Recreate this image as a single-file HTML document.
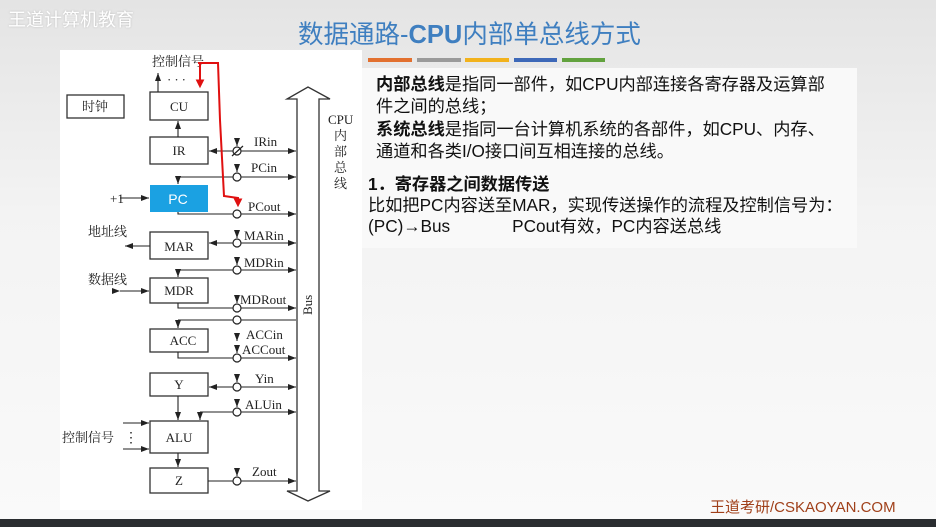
<!DOCTYPE html>
<html><head><meta charset="utf-8"><style>
body{margin:0;width:936px;height:527px;overflow:hidden;background:linear-gradient(#e4e4e4,#f3f3f3 40%,#fafafa);font-family:"Liberation Sans","Noto Sans CJK SC",sans-serif;position:relative}
.t{position:absolute;white-space:nowrap}
</style></head><body>
<div class="t" style="left:8px;top:6px;font-size:18px;color:#fff;text-shadow:0 0 2px #bbb">王道计算机教育</div>
<div class="t" style="left:298px;top:14px;font-size:25.5px;color:#3f7fc0">数据通路-<b>CPU</b>内部单总线方式</div>
<div style="position:absolute;left:362px;top:68px;width:495px;height:180px;background:#f9f9f9"></div>
<svg width="936" height="527" style="position:absolute;left:0;top:0" font-family="Liberation Serif,Noto Serif CJK SC,serif" font-size="13">
<g>
<rect x="355" y="58" width="7" height="4" fill="#3c6fbf"/>
<rect x="368" y="58" width="44" height="4" fill="#e2702f"/>
<rect x="417" y="58" width="44" height="4" fill="#9a9a9a"/>
<rect x="465" y="58" width="44" height="4" fill="#f2b21c"/>
<rect x="514" y="58" width="43" height="4" fill="#3d68b8"/>
<rect x="562" y="58" width="43" height="4" fill="#62a23e"/>
</g>
<rect x="60" y="50" width="302" height="460" fill="#fff"/>
<defs><marker id="a" viewBox="0 0 8 6" refX="8" refY="3" markerWidth="8" markerHeight="6" orient="auto" markerUnits="userSpaceOnUse"><path d="M0,0L8,3L0,6z" fill="#222"/></marker>
<marker id="r" viewBox="0 0 8 8" refX="6" refY="4" markerWidth="9" markerHeight="9" orient="auto" markerUnits="userSpaceOnUse"><path d="M0,0L8,4L0,8z" fill="#e01010"/></marker></defs>
<g stroke="#333" stroke-width="1.3" fill="#fff">
<rect x="67" y="95" width="57" height="23"/>
<rect x="150" y="92" width="58" height="28"/>
<rect x="150" y="137" width="58" height="27"/>
<rect x="150" y="232" width="58" height="27"/>
<rect x="150" y="278" width="58" height="25"/>
<rect x="150" y="329" width="58" height="23"/>
<rect x="150" y="373" width="58" height="23"/>
<rect x="150" y="421" width="58" height="32"/>
<rect x="150" y="468" width="58" height="25"/>
<path d="M297,491V99H287L308,87L330,99H319V491H330L308,501L287,491Z"/>
</g>
<rect x="150" y="185" width="58" height="27" fill="#1ba1e2"/>
<g stroke="#222" stroke-width="1.1" fill="none">
<line x1="158" y1="92" x2="158" y2="73" marker-end="url(#a)"/>
<line x1="178" y1="137" x2="178" y2="121" marker-end="url(#a)"/>
<line x1="296" y1="151" x2="209" y2="151" marker-end="url(#a)"/>
<line x1="233" y1="151" x2="296" y2="151" marker-end="url(#a)"/>
<path d="M296,177H178" /><line x1="178" y1="177" x2="178" y2="184" marker-end="url(#a)"/>
<line x1="241" y1="177" x2="296" y2="177" marker-end="url(#a)"/>
<line x1="120" y1="198" x2="149" y2="198" marker-end="url(#a)"/>
<path d="M178,212V214H233"/><line x1="241" y1="214" x2="296" y2="214" marker-end="url(#a)"/>
<line x1="233" y1="243" x2="209" y2="243" marker-end="url(#a)"/><line x1="241" y1="243" x2="296" y2="243" marker-end="url(#a)"/>
<line x1="150" y1="246" x2="125" y2="246" marker-end="url(#a)"/>
<path d="M296,270H178"/><line x1="178" y1="270" x2="178" y2="277" marker-end="url(#a)"/>
<line x1="241" y1="270" x2="296" y2="270" marker-end="url(#a)"/>
<line x1="120" y1="291" x2="149" y2="291" marker-end="url(#a)" marker-start="url(#a)"/>
<path d="M178,303V308H233"/><line x1="241" y1="308" x2="296" y2="308" marker-end="url(#a)"/>
<path d="M296,320H178"/><line x1="178" y1="320" x2="178" y2="328" marker-end="url(#a)"/>
<path d="M178,352V358H233"/><line x1="241" y1="358" x2="296" y2="358" marker-end="url(#a)"/>
<line x1="233" y1="387" x2="209" y2="387" marker-end="url(#a)"/><line x1="241" y1="387" x2="296" y2="387" marker-end="url(#a)"/>
<line x1="178" y1="396" x2="178" y2="420" marker-end="url(#a)"/>
<path d="M233,412H200"/><line x1="200" y1="412" x2="200" y2="420" marker-end="url(#a)"/><line x1="241" y1="412" x2="296" y2="412" marker-end="url(#a)"/>
<line x1="123" y1="423" x2="149" y2="423" marker-end="url(#a)"/><line x1="123" y1="449" x2="149" y2="449" marker-end="url(#a)"/>
<line x1="178" y1="453" x2="178" y2="467" marker-end="url(#a)"/>
<path d="M208,481H233"/><line x1="241" y1="481" x2="296" y2="481" marker-end="url(#a)"/>
<g>
<line x1="237" y1="138" x2="237" y2="146" marker-end="url(#a)"/>
<line x1="237" y1="164" x2="237" y2="172" marker-end="url(#a)"/>
<line x1="237" y1="230" x2="237" y2="238" marker-end="url(#a)"/>
<line x1="237" y1="257" x2="237" y2="265" marker-end="url(#a)"/>
<line x1="237" y1="295" x2="237" y2="303" marker-end="url(#a)"/>
<line x1="237" y1="334" x2="237" y2="341" marker-end="url(#a)"/>
<line x1="237" y1="345" x2="237" y2="353" marker-end="url(#a)"/>
<line x1="237" y1="374" x2="237" y2="382" marker-end="url(#a)"/>
<line x1="237" y1="399" x2="237" y2="407" marker-end="url(#a)"/>
<line x1="237" y1="468" x2="237" y2="476" marker-end="url(#a)"/>
</g>
</g>
<g stroke="#222" stroke-width="1.2" fill="#fff">
<circle cx="237" cy="151" r="4"/><line x1="232" y1="156" x2="243" y2="146"/>
<circle cx="237" cy="177" r="4"/><circle cx="237" cy="214" r="4"/><circle cx="237" cy="243" r="4"/>
<circle cx="237" cy="270" r="4"/><circle cx="237" cy="308" r="4"/><circle cx="237" cy="320" r="4"/>
<circle cx="237" cy="358" r="4"/><circle cx="237" cy="387" r="4"/><circle cx="237" cy="412" r="4"/><circle cx="237" cy="481" r="4"/>
</g>
<g fill="#222">
<text x="95" y="111" text-anchor="middle">时钟</text>
<text x="179" y="111" text-anchor="middle">CU</text>
<text x="179" y="155" text-anchor="middle">IR</text>
<text x="179" y="251" text-anchor="middle">MAR</text>
<text x="179" y="295" text-anchor="middle">MDR</text>
<text x="183" y="345" text-anchor="middle">ACC</text>
<text x="179" y="389" text-anchor="middle">Y</text>
<text x="179" y="442" text-anchor="middle">ALU</text>
<text x="179" y="485" text-anchor="middle">Z</text>
<text x="152" y="66">控制信号</text>
<text x="167" y="84" letter-spacing="3">···</text>
<text x="110" y="203">+1</text>
<text x="88" y="236">地址线</text>
<text x="88" y="284">数据线</text>
<text x="62" y="442">控制信号</text>
<text x="124" y="442" font-size="14">⋮</text>
<text x="254" y="146">IRin</text><text x="251" y="172">PCin</text><text x="248" y="211">PCout</text>
<text x="244" y="240">MARin</text><text x="244" y="267">MDRin</text><text x="240" y="304">MDRout</text>
<text x="246" y="339">ACCin</text><text x="242" y="354">ACCout</text><text x="255" y="383">Yin</text>
<text x="245" y="409">ALUin</text><text x="252" y="476">Zout</text>
<text x="328" y="124">CPU</text>
<text x="334" y="140">内</text><text x="334" y="156">部</text><text x="334" y="172">总</text><text x="334" y="188">线</text>
<text transform="translate(312,315) rotate(-90)" font-size="13">Bus</text>
</g>
<text x="178" y="204" text-anchor="middle" fill="#fff" font-family="Liberation Sans,sans-serif" font-size="14">PC</text>
<g stroke="#e01010" stroke-width="2" fill="none">
<path d="M198,63H218L220,120L224,196L238,198V205" marker-end="url(#r)"/>
<path d="M200,63V86" marker-end="url(#r)"/>
</g>
</svg>
<div style="position:absolute;left:368px;top:73px;font-size:17.2px;line-height:22.3px;color:#111;white-space:nowrap">
<div style="padding-left:8px"><b>内部总线</b>是指同一部件，如CPU内部连接各寄存器及运算部</div>
<div style="padding-left:8px">件之间的总线；</div>
<div style="padding-left:8px"><b>系统总线</b>是指同一台计算机系统的各部件，如CPU、内存、</div>
<div style="padding-left:8px">通道和各类I/O接口间互相连接的总线。</div>
<div style="margin-top:12px;line-height:21px"><b>1．寄存器之间数据传送</b></div>
<div style="line-height:21px">比如把PC内容送至MAR，实现传送操作的流程及控制信号为：</div>
<div style="line-height:21px">(PC)→Bus<span style="display:inline-block;width:62px"></span>PCout有效，PC内容送总线</div>
</div>
<div class="t" style="left:710px;top:496px;font-size:15px;color:#a0401a">王道考研/CSKAOYAN.COM</div>
<div style="position:absolute;left:0;top:519px;width:936px;height:8px;background:#2a2d30"></div>
</body></html>
